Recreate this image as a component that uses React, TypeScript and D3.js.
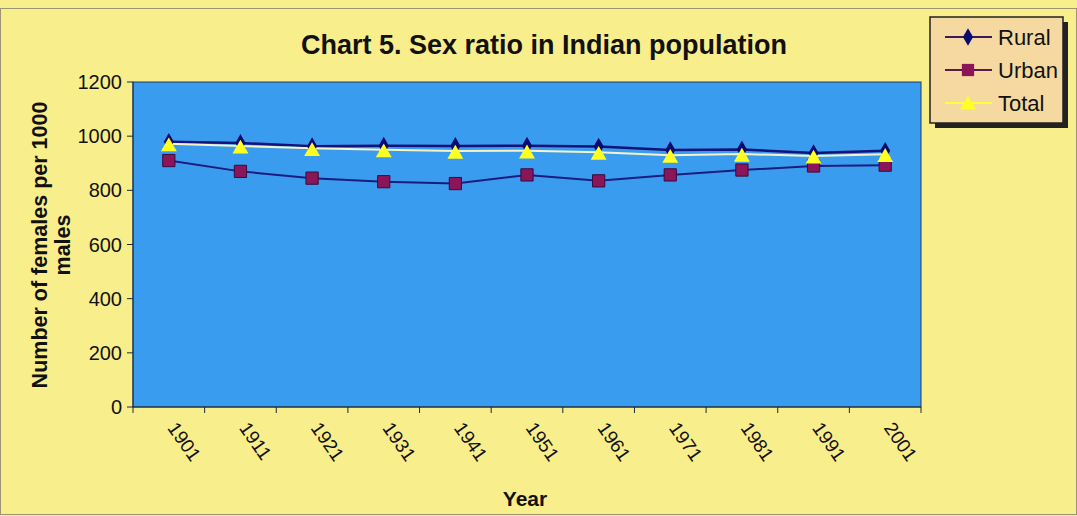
import React from 'react';
import * as d3 from 'd3';

const years = ['1901', '1911', '1921', '1931', '1941', '1951', '1961', '1971', '1981', '1991', '2001'];
const rural = [979, 975, 963, 965, 964, 965, 962, 949, 951, 938, 946];
const urban = [910, 870, 845, 832, 825, 857, 835, 857, 875, 890, 893];
const total = [972, 964, 955, 950, 945, 946, 941, 930, 934, 927, 933];
const yTicks = [0, 200, 400, 600, 800, 1000, 1200];

const W = 1077;
const H = 516;
const plot = { left: 133, right: 921, top: 82, bottom: 407 };

export default function App() {
  const x = d3.scaleBand().domain(years).range([plot.left, plot.right]);
  const y = d3.scaleLinear().domain([0, 1200]).range([plot.bottom, plot.top]);
  const cx = (d: string) => (x(d) as number) + x.bandwidth() / 2;

  const line = d3
    .line<number>()
    .x((_, i) => cx(years[i]))
    .y((d) => y(d));

  const diamond = d3.symbol().type(d3.symbolDiamond).size(90)() as string;
  const square = d3.symbol().type(d3.symbolSquare).size(150)() as string;
  const triangle = d3.symbol().type(d3.symbolTriangle).size(110)() as string;

  const font = 'Arial, "Liberation Sans", sans-serif';

  return (
    <svg width={W} height={H} style={{ position: 'absolute', left: 0, top: 0 }} fontFamily={font}>
      <rect x={0} y={0} width={W} height={H} fill="#F9EE8C" />
      <rect x={0.5} y={8.5} width={W - 1} height={H - 10} fill="none" stroke="#9a9470" strokeWidth={1} />

      {/* plot area */}
      <rect x={plot.left} y={plot.top} width={plot.right - plot.left} height={plot.bottom - plot.top} fill="#3A9CEE" stroke="#1e3a60" strokeWidth={1} />

      {/* y axis */}
      <line x1={plot.left} x2={plot.left} y1={plot.top} y2={plot.bottom} stroke="#1a2a3a" />
      {yTicks.map((t) => (
        <g key={t}>
          <line x1={plot.left - 6} x2={plot.left} y1={y(t)} y2={y(t)} stroke="#1a2a3a" />
          <text x={plot.left - 11} y={y(t)} dy="0.35em" textAnchor="end" fontSize={20} fill="#111">
            {t}
          </text>
        </g>
      ))}

      {/* x axis */}
      <line x1={plot.left} x2={plot.right} y1={plot.bottom} y2={plot.bottom} stroke="#1a2a3a" />
      {years.map((yr) => (
        <line key={'t' + yr} x1={x(yr) as number} x2={x(yr) as number} y1={plot.bottom} y2={plot.bottom + 6} stroke="#1a2a3a" />
      ))}
      <line x1={plot.right} x2={plot.right} y1={plot.bottom} y2={plot.bottom + 6} stroke="#1a2a3a" />
      {years.map((yr) => (
        <text
          key={'l' + yr}
          transform={`translate(${cx(yr) - 2},${plot.bottom + 21}) rotate(55)`}
          fontSize={19}
          fill="#111"
        >
          {yr}
        </text>
      ))}

      {/* series */}
      <path d={line(rural) as string} fill="none" stroke="#12127a" strokeWidth={2.5} />
      <path d={line(urban) as string} fill="none" stroke="#1c1c80" strokeWidth={2} />
      <path d={line(total) as string} fill="none" stroke="#F4F4C8" strokeWidth={2} />
      {rural.map((v, i) => (
        <path key={'r' + i} d={diamond} transform={`translate(${cx(years[i])},${y(v)})`} fill="#0a0a70" />
      ))}
      {urban.map((v, i) => (
        <path key={'u' + i} d={square} transform={`translate(${cx(years[i])},${y(v)})`} fill="#8A1558" stroke="#3a0a40" strokeWidth={1} />
      ))}
      {total.map((v, i) => (
        <path key={'tt' + i} d={triangle} transform={`translate(${cx(years[i])},${y(v) + 3})`} fill="#FFFF22" />
      ))}

      {/* titles */}
      <text x={544} y={54} textAnchor="middle" fontSize={27} fontWeight="bold" fill="#111">
        Chart 5. Sex ratio in Indian population
      </text>
      <text x={525} y={506} textAnchor="middle" fontSize={21} fontWeight="bold" fill="#111">
        Year
      </text>
      <text transform={`translate(47,245) rotate(-90)`} textAnchor="middle" fontSize={21.5} fontWeight="bold" fill="#111">
        Number of females per 1000
      </text>
      <text transform={`translate(70,245) rotate(-90)`} textAnchor="middle" fontSize={21.5} fontWeight="bold" fill="#111">
        males
      </text>

      {/* legend */}
      <rect x={935} y={22} width={133} height={106} fill="#222" />
      <rect x={930} y={17} width={133} height={106} fill="#F5D9A0" stroke="#222" strokeWidth={1.5} />
      {[
        { name: 'Rural', color: '#3a1a5a', sym: diamond, fill: '#0a0a70' },
        { name: 'Urban', color: '#5a1a4a', sym: square, fill: '#8A1558' },
        { name: 'Total', color: '#FFFF40', sym: triangle, fill: '#FFFF22' },
      ].map((s, i) => {
        const ly = 37 + i * 33;
        return (
          <g key={s.name}>
            <line x1={945} x2={992} y1={ly} y2={ly} stroke={s.color} strokeWidth={2} />
            <path d={s.sym} transform={`translate(968,${ly + (i === 2 ? 2 : 0)})`} fill={s.fill} />
            <text x={998} y={ly} dy="0.36em" fontSize={22} fill="#111">
              {s.name}
            </text>
          </g>
        );
      })}
    </svg>
  );
}
